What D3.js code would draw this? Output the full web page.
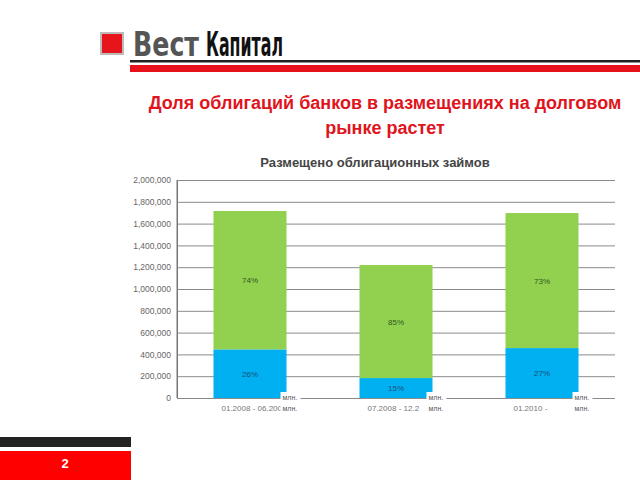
<!DOCTYPE html>
<html><head><meta charset="utf-8">
<script src="https://cdn.jsdelivr.net/npm/d3@7"></script>
<style>body{margin:0;background:#fff}svg{display:block}</style>
</head><body>
<script>
const categories = ["01.2008 - 06.200", "07.2008 - 12.2", "01.2010 - "];
const banks = [446000, 183000, 458000];
const others = [1269600, 1037000, 1239000];
const bankPct = ["26%", "15%", "27%"];
const otherPct = ["74%", "85%", "73%"];
const yTicks = [0, 200000, 400000, 600000, 800000, 1000000, 1200000, 1400000, 1600000, 1800000, 2000000];
const unitLabel = "млн.";

const W = 640, H = 480;
const svg = d3.select("body").append("svg").attr("width", W).attr("height", H);
const font = "'Liberation Sans', Arial, sans-serif";

// Header logo
svg.append("rect").attr("x", 100).attr("y", 32).attr("width", 24).attr("height", 23).attr("fill", "#bbb");
svg.append("rect").attr("x", 102).attr("y", 34).attr("width", 20).attr("height", 19).attr("fill", "#e8141c");
svg.append("text").attr("x", 133).attr("y", 56).attr("font-family", "'Liberation Sans Narrow','DejaVu Sans Condensed',sans-serif")
  .attr("font-weight", "bold").attr("font-size", 33).attr("fill", "#555").attr("textLength", 66).attr("lengthAdjust", "spacingAndGlyphs").text("Вест");
svg.append("text").attr("x", 206).attr("y", 56).attr("font-family", "'Liberation Sans Narrow','DejaVu Sans Condensed',sans-serif")
  .attr("font-weight", "bold").attr("font-size", 33).attr("fill", "#111").attr("textLength", 77).attr("lengthAdjust", "spacingAndGlyphs").text("Капитал");
svg.append("rect").attr("x", 130).attr("y", 60).attr("width", 510).attr("height", 2.5).attr("fill", "#222");
svg.append("rect").attr("x", 130).attr("y", 65).attr("width", 510).attr("height", 7).attr("fill", "#e8101a");

// Title
svg.append("text").attr("x", 385).attr("y", 109).attr("text-anchor", "middle").attr("font-family", font)
  .attr("font-weight", "bold").attr("font-size", 18).attr("fill", "#e0141c").text("Доля облигаций банков в размещениях на долговом");
svg.append("text").attr("x", 385).attr("y", 134).attr("text-anchor", "middle").attr("font-family", font)
  .attr("font-weight", "bold").attr("font-size", 18).attr("fill", "#e0141c").text("рынке растет");

svg.append("text").attr("x", 375).attr("y", 167).attr("text-anchor", "middle").attr("font-family", font)
  .attr("font-weight", "bold").attr("font-size", 13).attr("fill", "#444").text("Размещено облигационных займов");

// Chart
const x0 = 177, x1 = 615, yTop = 180, yBot = 398;
const y = d3.scaleLinear().domain([0, 2000000]).range([yBot, yTop]);
const x = d3.scaleBand().domain(categories).range([x0, x1]).paddingInner(0.5).paddingOuter(0.25);

const yAxis = d3.axisLeft(y).tickValues(yTicks).tickSize(-(x1 - x0)).tickPadding(6)
  .tickFormat(d3.format(","));
const gy = svg.append("g").attr("transform", `translate(${x0},0)`).call(yAxis);
gy.select(".domain").attr("stroke", "#777");
gy.selectAll(".tick line").attr("stroke", "#8a8a8a");
gy.selectAll(".tick text").attr("font-family", font).attr("font-size", 8.5).attr("fill", "#666");
svg.append("line").attr("x1", x0).attr("x2", x0).attr("y1", yTop).attr("y2", yBot).attr("stroke", "#777");

const g = svg.append("g");
categories.forEach((c, i) => {
  const bx = x(c), bw = x.bandwidth();
  g.append("rect").attr("x", bx).attr("y", y(banks[i])).attr("width", bw).attr("height", y(0) - y(banks[i])).attr("fill", "#00b0f0");
  g.append("rect").attr("x", bx).attr("y", y(banks[i] + others[i])).attr("width", bw)
    .attr("height", y(banks[i]) - y(banks[i] + others[i])).attr("fill", "#92d050");
  g.append("text").attr("x", bx + bw / 2).attr("y", (y(0) + y(banks[i])) / 2 + 3).attr("text-anchor", "middle")
    .attr("font-family", font).attr("font-size", 8).attr("fill", "#1f4e79").text(bankPct[i]);
  g.append("text").attr("x", bx + bw / 2).attr("y", (y(banks[i]) + y(banks[i] + others[i])) / 2 + 3).attr("text-anchor", "middle")
    .attr("font-family", font).attr("font-size", 8).attr("fill", "#2f5a1f").text(otherPct[i]);
  // category label
  g.append("text").attr("x", bx + 8).attr("y", 411).attr("font-family", font).attr("font-size", 8).attr("fill", "#777").text(c);
  // unit boxes
  [0, 1].forEach(k => {
    g.append("rect").attr("x", bx + bw - 6).attr("y", 392 + k * 11).attr("width", 20).attr("height", 10).attr("fill", "#fff");
    g.append("text").attr("x", bx + bw - 4).attr("y", 400 + k * 11).attr("font-family", font).attr("font-size", 7).attr("fill", "#555").text(unitLabel);
  });
});

// Footer
svg.append("rect").attr("x", 0).attr("y", 437).attr("width", 131).attr("height", 10).attr("fill", "#222");
svg.append("rect").attr("x", 0).attr("y", 451).attr("width", 131).attr("height", 29).attr("fill", "#ff0000");
svg.append("text").attr("x", 65).attr("y", 468).attr("text-anchor", "middle").attr("font-family", font)
  .attr("font-weight", "bold").attr("font-size", 13).attr("fill", "#fff").text("2");
</script>
</body></html>
